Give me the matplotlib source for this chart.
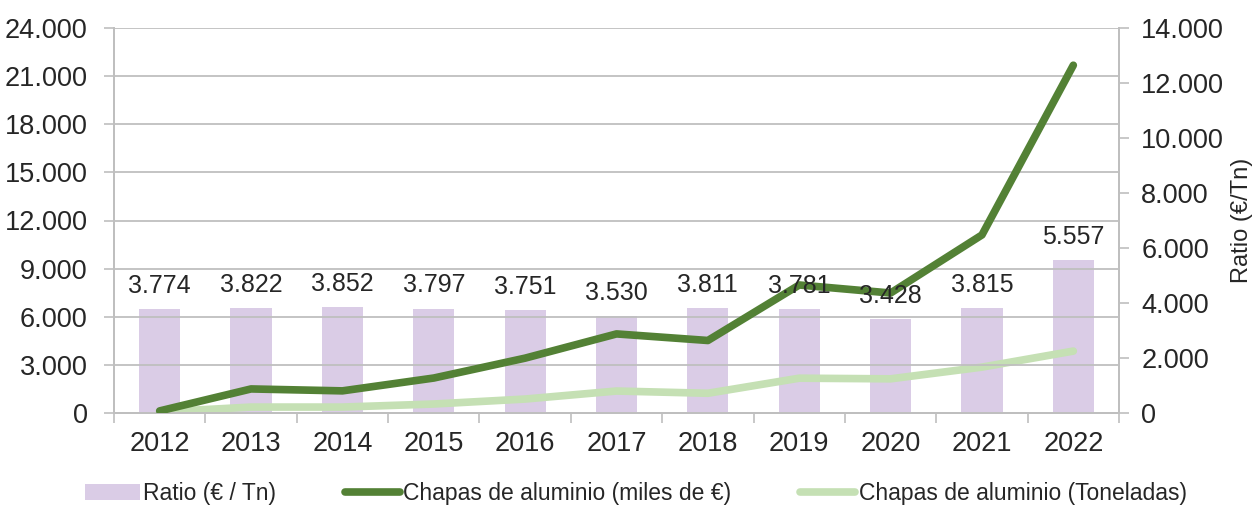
import matplotlib.pyplot as plt
from matplotlib.lines import Line2D
from matplotlib.patches import Patch
from matplotlib.ticker import FuncFormatter, MultipleLocator, FixedLocator

plt.rcParams['font.family'] = ['Liberation Sans', 'DejaVu Sans']

years = ['2012', '2013', '2014', '2015', '2016', '2017', '2018', '2019', '2020', '2021', '2022']
ratio = [3774, 3822, 3852, 3797, 3751, 3530, 3811, 3781, 3428, 3815, 5557]
miles_euros = [130, 1500, 1380, 2180, 3420, 4930, 4520, 7980, 7480, 11100, 21680]
toneladas = [60, 370, 370, 560, 870, 1370, 1230, 2170, 2130, 2860, 3860]

bar_color = '#DACCE6'
dark_green = '#538135'
light_green = '#C5E0B4'
grid_color = '#BFBFBF'
text_color = '#262626'


def thousands(v, pos=None):
    return f'{v:,.0f}'.replace(',', '.')


fig = plt.figure(figsize=(12.54, 5.13), dpi=100)
ax = fig.add_axes([114 / 1254, 100 / 513, (1119 - 114) / 1254, 385 / 513])
ax2 = ax.twinx()

x = list(range(len(years)))

# bars on the right axis, lines on the left axis drawn above them
ax2.bar(x, ratio, width=0.45, color=bar_color, zorder=1)
ax.set_zorder(ax2.get_zorder() + 1)
ax.patch.set_visible(False)

ax.plot(x, miles_euros, color=dark_green, lw=5.5, solid_capstyle='round', zorder=3)
ax.plot(x, toneladas, color=light_green, lw=5.5, solid_capstyle='round', zorder=2)

for i, v in enumerate(ratio):
    ax.annotate(thousands(v), xy=(i, v), xycoords=ax2.transData, xytext=(0, 8),
                textcoords='offset points', ha='center', va='bottom',
                fontsize=18, color=text_color, zorder=5)

ax.set_xlim(-0.5, len(years) - 0.5)
ax.set_ylim(0, 24000)
ax2.set_ylim(0, 14000)

ax.yaxis.set_major_locator(MultipleLocator(3000))
ax2.yaxis.set_major_locator(MultipleLocator(2000))
ax.yaxis.set_major_formatter(FuncFormatter(thousands))
ax2.yaxis.set_major_formatter(FuncFormatter(thousands))

ax.set_xticks(x)
ax.set_xticklabels(years)
ax.xaxis.set_minor_locator(FixedLocator([i - 0.5 for i in range(len(years) + 1)]))
ax.tick_params(axis='x', which='major', length=0, pad=13, labelsize=19.5, labelcolor=text_color)
ax.tick_params(axis='x', which='minor', length=7, width=1.2, color=grid_color)
ax.tick_params(axis='y', length=7, width=1.2, color=grid_color, pad=12, labelsize=19.5, labelcolor=text_color)
ax2.tick_params(axis='y', length=7, width=1.2, color=grid_color, pad=9, labelsize=19.5, labelcolor=text_color)

ax.grid(axis='y', color=grid_color, lw=1.3)
ax.set_axisbelow(False)

for a in (ax, ax2):
    a.spines['top'].set_visible(False)
    for s in ('left', 'right', 'bottom'):
        a.spines[s].set_color(grid_color)
        a.spines[s].set_linewidth(1.3)

ax2.set_ylabel('Ratio (€/Tn)', fontsize=17, color=text_color, labelpad=5)

handles = [
    Patch(facecolor=bar_color, edgecolor='none'),
    Line2D([0], [0], color=dark_green, lw=5.5, solid_capstyle='round'),
    Line2D([0], [0], color=light_green, lw=5.5, solid_capstyle='round'),
]
labels = ['Ratio (€ / Tn)', 'Chapas de aluminio (miles de €)', 'Chapas de aluminio (Toneladas)']
fig.legend(handles, labels, loc='center', bbox_to_anchor=(0.507, 0.038), ncol=3,
           frameon=False, fontsize=16.5, handlelength=2.4, handleheight=0.7,
           handletextpad=0.15, columnspacing=3.0, labelcolor=text_color)

fig.savefig('out.png', dpi=100)
